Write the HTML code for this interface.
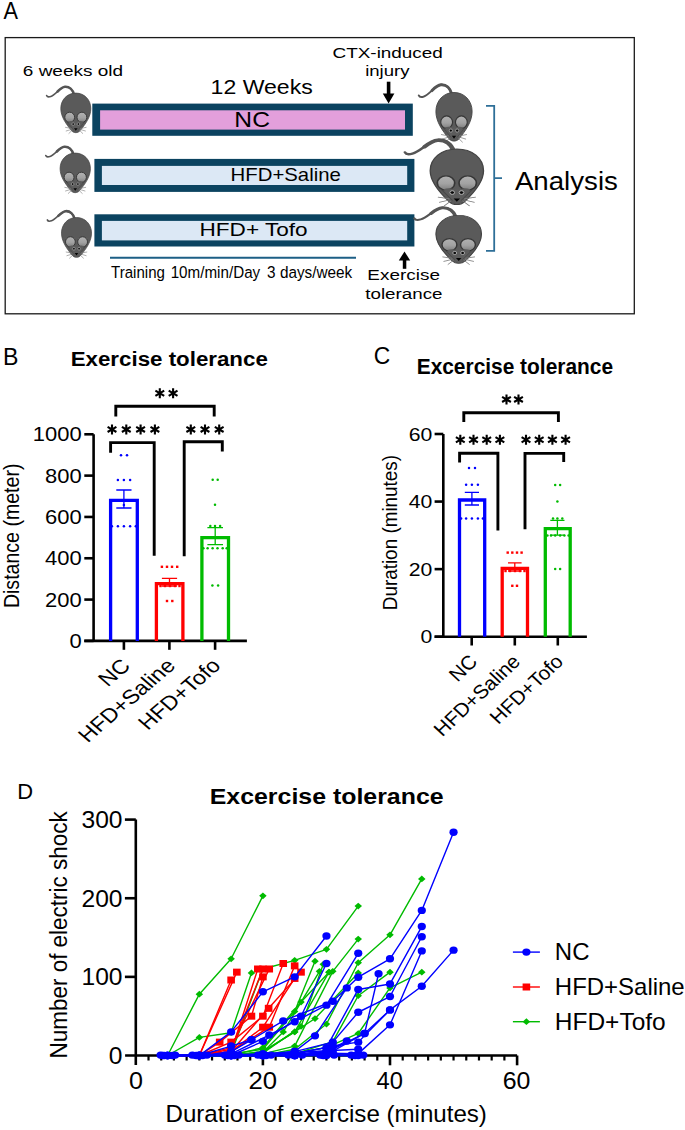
<!DOCTYPE html>
<html><head><meta charset="utf-8"><style>
html,body{margin:0;padding:0;background:#fff;}
svg{display:block;}
text{font-family:"Liberation Sans",sans-serif;}
</style></head><body>
<svg width="685" height="1130" viewBox="0 0 685 1130">
<defs><linearGradient id="earg" x1="0" y1="0" x2="0" y2="1"><stop offset="0" stop-color="#b2b2b2"/><stop offset="0.55" stop-color="#a2a2a2"/><stop offset="1" stop-color="#7e7e7e"/></linearGradient>
</defs>
<rect width="685" height="1130" fill="#fff"/>
<text transform="translate(3.45,19.3) scale(0.9450,1)" font-size="23" fill="#000">A</text>
<rect x="5.2" y="37.6" width="629.1" height="276.2" fill="none" stroke="#1a1a1a" stroke-width="1.3"/>
<text transform="translate(22.85,76.4) scale(1.2327,1)" font-size="15.4" fill="#000">6 weeks old</text>
<text transform="translate(210.57,94.3) scale(1.1782,1)" font-size="19.6" fill="#000">12 Weeks</text>
<text transform="translate(332.55,57.5) scale(1.2439,1)" font-size="15.2" fill="#000">CTX-induced</text>
<text transform="translate(365.15,76) scale(1.2222,1)" font-size="15.2" fill="#000">injury</text>
<rect x="92.3" y="103.6" width="320.5" height="32.2" fill="#0b4360"/>
<rect x="100.1" y="110.3" width="304.9" height="19.3" fill="#e39fdb"/>
<rect x="94.4" y="158.9" width="320" height="33" fill="#0b4360"/>
<rect x="101.9" y="165.9" width="305.3" height="19.1" fill="#dce8f5"/>
<rect x="94.4" y="214.3" width="320" height="32.2" fill="#0b4360"/>
<rect x="101.9" y="220.9" width="305.3" height="19.5" fill="#dce8f5"/>
<text transform="translate(234.37,127.2) scale(1.1286,1)" font-size="21.8" fill="#000">NC</text>
<text transform="translate(230.62,181.3) scale(1.1181,1)" font-size="18.2" fill="#000">HFD+Saline</text>
<text transform="translate(199.54,236.3) scale(1.2136,1)" font-size="18.6" fill="#000">HFD+ Tofo</text>
<rect x="386.8" y="81.7" width="3.6" height="13" fill="#000"/>
<path d="M382.8,93.5 L394.4,93.5 L388.6,103.5 Z" fill="#000"/>
<path d="M404.5,251.5 L410.2,260.5 L398.8,260.5 Z" fill="#000"/>
<rect x="402.8" y="259.5" width="3.5" height="9.3" fill="#000"/>
<line x1="110" y1="257.8" x2="356" y2="257.8" stroke="#1d5f86" stroke-width="2"/>
<text transform="translate(111.06,278) scale(0.9134,1)" font-size="16.5" fill="#000">Training</text>
<text transform="translate(170.66,278) scale(0.9217,1)" font-size="16.5" fill="#000">10m/min/Day</text>
<text transform="translate(267.12,278) scale(0.9295,1)" font-size="16.5" fill="#000">3 days/week</text>
<text transform="translate(367.34,280.1) scale(1.2376,1)" font-size="15.3" fill="#000">Exercise</text>
<text transform="translate(365.22,299.4) scale(1.2282,1)" font-size="15.3" fill="#000">tolerance</text>
<path d="M486,105.8 L494.2,105.8 L494.2,250.8 L486,250.8 M494.2,178.2 L502,178.2" fill="none" stroke="#2e6f98" stroke-width="1.8"/>
<text transform="translate(514.93,189.8) scale(1.0435,1)" font-size="26.5" fill="#000">Analysis</text>
<g transform="translate(60.8,93.1) scale(1,1)"><path d="M12.8,0.8 C11.5,-3.5 8.5,-6.6 4.2,-6.3 C-0.5,-6 -5.5,2 -10,3.3 C-12,4 -13.6,3.9 -14.2,2.4" fill="none" stroke="#555" stroke-width="1.6" stroke-linecap="round"/><path d="M13.2,1.5 C12,-3.5 8.5,-6.6 4.2,-6.3 C1.5,-6.1 -1,-3.8 -3.2,-1.6" fill="none" stroke="#555" stroke-width="2.5" stroke-linecap="round"/><path d="M15,0 C23.6,0 30,6.6 30,15.5 C30,23.5 24.8,31 19.2,37.6 C17,40.2 13,40.2 10.8,37.6 C5.2,31 0,23.5 0,15.5 C0,6.6 6.4,0 15,0 Z" fill="#5a5a5a" stroke="#444" stroke-width="0.75"/><ellipse cx="8.9" cy="24.2" rx="4.9" ry="5.1" fill="url(#earg)" stroke="#363636" stroke-width="0.95"/><ellipse cx="21.1" cy="24.2" rx="4.9" ry="5.1" fill="url(#earg)" stroke="#363636" stroke-width="0.95"/><path d="M7.5,28.6 Q11,27 13.2,28.8 Q15,27.6 16.8,28.8 Q19,27 22.5,28.6 L18.6,36.4 Q15,38.6 11.4,36.4 Z" fill="#5c5c5c"/><path d="M6.2,28.8 Q10,33.5 12.6,36.6 M23.8,28.8 Q20,33.5 17.4,36.6" stroke="#474747" stroke-width="0.6" fill="none"/><circle cx="12.4" cy="31.0" r="1.3" fill="#0a0a0a" stroke="#d0d0d0" stroke-width="0.5"/><circle cx="17.6" cy="31.0" r="1.3" fill="#0a0a0a" stroke="#d0d0d0" stroke-width="0.5"/><path d="M13.2,35.2 L16.8,35.2 L15,37.6 Z" fill="#050505"/><path d="M10.8,35.4 L4.3,34.2 M11,36.2 L5,38 M11.8,36.8 L7.8,40.6 M19.2,35.4 L25.7,34.2 M19,36.2 L25,38 M18.2,36.8 L22.2,40.6" stroke="#7c7c7c" stroke-width="0.6" fill="none"/></g>
<g transform="translate(60.1,153.1) scale(1.01,1)"><path d="M12.8,0.8 C11.5,-3.5 8.5,-6.6 4.2,-6.3 C-0.5,-6 -5.5,2 -10,3.3 C-12,4 -13.6,3.9 -14.2,2.4" fill="none" stroke="#555" stroke-width="1.6" stroke-linecap="round"/><path d="M13.2,1.5 C12,-3.5 8.5,-6.6 4.2,-6.3 C1.5,-6.1 -1,-3.8 -3.2,-1.6" fill="none" stroke="#555" stroke-width="2.5" stroke-linecap="round"/><path d="M15,0 C23.6,0 30,6.6 30,15.5 C30,23.5 24.8,31 19.2,37.6 C17,40.2 13,40.2 10.8,37.6 C5.2,31 0,23.5 0,15.5 C0,6.6 6.4,0 15,0 Z" fill="#5a5a5a" stroke="#444" stroke-width="0.75"/><ellipse cx="8.9" cy="24.2" rx="4.9" ry="5.1" fill="url(#earg)" stroke="#363636" stroke-width="0.95"/><ellipse cx="21.1" cy="24.2" rx="4.9" ry="5.1" fill="url(#earg)" stroke="#363636" stroke-width="0.95"/><path d="M7.5,28.6 Q11,27 13.2,28.8 Q15,27.6 16.8,28.8 Q19,27 22.5,28.6 L18.6,36.4 Q15,38.6 11.4,36.4 Z" fill="#5c5c5c"/><path d="M6.2,28.8 Q10,33.5 12.6,36.6 M23.8,28.8 Q20,33.5 17.4,36.6" stroke="#474747" stroke-width="0.6" fill="none"/><circle cx="12.4" cy="31.0" r="1.3" fill="#0a0a0a" stroke="#d0d0d0" stroke-width="0.5"/><circle cx="17.6" cy="31.0" r="1.3" fill="#0a0a0a" stroke="#d0d0d0" stroke-width="0.5"/><path d="M13.2,35.2 L16.8,35.2 L15,37.6 Z" fill="#050505"/><path d="M10.8,35.4 L4.3,34.2 M11,36.2 L5,38 M11.8,36.8 L7.8,40.6 M19.2,35.4 L25.7,34.2 M19,36.2 L25,38 M18.2,36.8 L22.2,40.6" stroke="#7c7c7c" stroke-width="0.6" fill="none"/></g>
<g transform="translate(61.5,217.5) scale(1,1.0075)"><path d="M12.8,0.8 C11.5,-3.5 8.5,-6.6 4.2,-6.3 C-0.5,-6 -5.5,2 -10,3.3 C-12,4 -13.6,3.9 -14.2,2.4" fill="none" stroke="#555" stroke-width="1.6" stroke-linecap="round"/><path d="M13.2,1.5 C12,-3.5 8.5,-6.6 4.2,-6.3 C1.5,-6.1 -1,-3.8 -3.2,-1.6" fill="none" stroke="#555" stroke-width="2.5" stroke-linecap="round"/><path d="M15,0 C23.6,0 30,6.6 30,15.5 C30,23.5 24.8,31 19.2,37.6 C17,40.2 13,40.2 10.8,37.6 C5.2,31 0,23.5 0,15.5 C0,6.6 6.4,0 15,0 Z" fill="#5a5a5a" stroke="#444" stroke-width="0.75"/><ellipse cx="8.9" cy="24.2" rx="4.9" ry="5.1" fill="url(#earg)" stroke="#363636" stroke-width="0.95"/><ellipse cx="21.1" cy="24.2" rx="4.9" ry="5.1" fill="url(#earg)" stroke="#363636" stroke-width="0.95"/><path d="M7.5,28.6 Q11,27 13.2,28.8 Q15,27.6 16.8,28.8 Q19,27 22.5,28.6 L18.6,36.4 Q15,38.6 11.4,36.4 Z" fill="#5c5c5c"/><path d="M6.2,28.8 Q10,33.5 12.6,36.6 M23.8,28.8 Q20,33.5 17.4,36.6" stroke="#474747" stroke-width="0.6" fill="none"/><circle cx="12.4" cy="31.0" r="1.3" fill="#0a0a0a" stroke="#d0d0d0" stroke-width="0.5"/><circle cx="17.6" cy="31.0" r="1.3" fill="#0a0a0a" stroke="#d0d0d0" stroke-width="0.5"/><path d="M13.2,35.2 L16.8,35.2 L15,37.6 Z" fill="#050505"/><path d="M10.8,35.4 L4.3,34.2 M11,36.2 L5,38 M11.8,36.8 L7.8,40.6 M19.2,35.4 L25.7,34.2 M19,36.2 L25,38 M18.2,36.8 L22.2,40.6" stroke="#7c7c7c" stroke-width="0.6" fill="none"/></g>
<g transform="translate(435.9,92.5) scale(1.207,1.228)"><path d="M12.8,0.8 C11.5,-3.5 8.5,-6.6 4.2,-6.3 C-0.5,-6 -5.5,2 -10,3.3 C-12,4 -13.6,3.9 -14.2,2.4" fill="none" stroke="#555" stroke-width="1.6" stroke-linecap="round"/><path d="M13.2,1.5 C12,-3.5 8.5,-6.6 4.2,-6.3 C1.5,-6.1 -1,-3.8 -3.2,-1.6" fill="none" stroke="#555" stroke-width="2.5" stroke-linecap="round"/><path d="M15,0 C23.6,0 30,6.6 30,15.5 C30,23.5 24.8,31 19.2,37.6 C17,40.2 13,40.2 10.8,37.6 C5.2,31 0,23.5 0,15.5 C0,6.6 6.4,0 15,0 Z" fill="#5a5a5a" stroke="#444" stroke-width="0.75"/><ellipse cx="8.9" cy="24.2" rx="4.9" ry="5.1" fill="url(#earg)" stroke="#363636" stroke-width="0.95"/><ellipse cx="21.1" cy="24.2" rx="4.9" ry="5.1" fill="url(#earg)" stroke="#363636" stroke-width="0.95"/><path d="M7.5,28.6 Q11,27 13.2,28.8 Q15,27.6 16.8,28.8 Q19,27 22.5,28.6 L18.6,36.4 Q15,38.6 11.4,36.4 Z" fill="#5c5c5c"/><path d="M6.2,28.8 Q10,33.5 12.6,36.6 M23.8,28.8 Q20,33.5 17.4,36.6" stroke="#474747" stroke-width="0.6" fill="none"/><circle cx="12.4" cy="31.0" r="1.3" fill="#0a0a0a" stroke="#d0d0d0" stroke-width="0.5"/><circle cx="17.6" cy="31.0" r="1.3" fill="#0a0a0a" stroke="#d0d0d0" stroke-width="0.5"/><path d="M13.2,35.2 L16.8,35.2 L15,37.6 Z" fill="#050505"/><path d="M10.8,35.4 L4.3,34.2 M11,36.2 L5,38 M11.8,36.8 L7.8,40.6 M19.2,35.4 L25.7,34.2 M19,36.2 L25,38 M18.2,36.8 L22.2,40.6" stroke="#7c7c7c" stroke-width="0.6" fill="none"/></g>
<g transform="translate(430.2,149) scale(1.777,1.405)"><path d="M12.8,0.8 C11.5,-3.5 8.5,-6.6 4.2,-6.3 C-0.5,-6 -5.5,2 -10,3.3 C-12,4 -13.6,3.9 -14.2,2.4" fill="none" stroke="#555" stroke-width="1.6" stroke-linecap="round"/><path d="M13.2,1.5 C12,-3.5 8.5,-6.6 4.2,-6.3 C1.5,-6.1 -1,-3.8 -3.2,-1.6" fill="none" stroke="#555" stroke-width="2.5" stroke-linecap="round"/><path d="M15,0 C23.6,0 30,6.6 30,15.5 C30,23.5 24.8,31 19.2,37.6 C17,40.2 13,40.2 10.8,37.6 C5.2,31 0,23.5 0,15.5 C0,6.6 6.4,0 15,0 Z" fill="#5a5a5a" stroke="#444" stroke-width="0.75"/><ellipse cx="8.9" cy="24.2" rx="4.9" ry="5.1" fill="url(#earg)" stroke="#363636" stroke-width="0.95"/><ellipse cx="21.1" cy="24.2" rx="4.9" ry="5.1" fill="url(#earg)" stroke="#363636" stroke-width="0.95"/><path d="M7.5,28.6 Q11,27 13.2,28.8 Q15,27.6 16.8,28.8 Q19,27 22.5,28.6 L18.6,36.4 Q15,38.6 11.4,36.4 Z" fill="#5c5c5c"/><path d="M6.2,28.8 Q10,33.5 12.6,36.6 M23.8,28.8 Q20,33.5 17.4,36.6" stroke="#474747" stroke-width="0.6" fill="none"/><circle cx="12.4" cy="31.0" r="1.3" fill="#0a0a0a" stroke="#d0d0d0" stroke-width="0.5"/><circle cx="17.6" cy="31.0" r="1.3" fill="#0a0a0a" stroke="#d0d0d0" stroke-width="0.5"/><path d="M13.2,35.2 L16.8,35.2 L15,37.6 Z" fill="#050505"/><path d="M10.8,35.4 L4.3,34.2 M11,36.2 L5,38 M11.8,36.8 L7.8,40.6 M19.2,35.4 L25.7,34.2 M19,36.2 L25,38 M18.2,36.8 L22.2,40.6" stroke="#7c7c7c" stroke-width="0.6" fill="none"/></g>
<g transform="translate(435.9,215.4) scale(1.52,1.2125)"><path d="M12.8,0.8 C11.5,-3.5 8.5,-6.6 4.2,-6.3 C-0.5,-6 -5.5,2 -10,3.3 C-12,4 -13.6,3.9 -14.2,2.4" fill="none" stroke="#555" stroke-width="1.6" stroke-linecap="round"/><path d="M13.2,1.5 C12,-3.5 8.5,-6.6 4.2,-6.3 C1.5,-6.1 -1,-3.8 -3.2,-1.6" fill="none" stroke="#555" stroke-width="2.5" stroke-linecap="round"/><path d="M15,0 C23.6,0 30,6.6 30,15.5 C30,23.5 24.8,31 19.2,37.6 C17,40.2 13,40.2 10.8,37.6 C5.2,31 0,23.5 0,15.5 C0,6.6 6.4,0 15,0 Z" fill="#5a5a5a" stroke="#444" stroke-width="0.75"/><ellipse cx="8.9" cy="24.2" rx="4.9" ry="5.1" fill="url(#earg)" stroke="#363636" stroke-width="0.95"/><ellipse cx="21.1" cy="24.2" rx="4.9" ry="5.1" fill="url(#earg)" stroke="#363636" stroke-width="0.95"/><path d="M7.5,28.6 Q11,27 13.2,28.8 Q15,27.6 16.8,28.8 Q19,27 22.5,28.6 L18.6,36.4 Q15,38.6 11.4,36.4 Z" fill="#5c5c5c"/><path d="M6.2,28.8 Q10,33.5 12.6,36.6 M23.8,28.8 Q20,33.5 17.4,36.6" stroke="#474747" stroke-width="0.6" fill="none"/><circle cx="12.4" cy="31.0" r="1.3" fill="#0a0a0a" stroke="#d0d0d0" stroke-width="0.5"/><circle cx="17.6" cy="31.0" r="1.3" fill="#0a0a0a" stroke="#d0d0d0" stroke-width="0.5"/><path d="M13.2,35.2 L16.8,35.2 L15,37.6 Z" fill="#050505"/><path d="M10.8,35.4 L4.3,34.2 M11,36.2 L5,38 M11.8,36.8 L7.8,40.6 M19.2,35.4 L25.7,34.2 M19,36.2 L25,38 M18.2,36.8 L22.2,40.6" stroke="#7c7c7c" stroke-width="0.6" fill="none"/></g>
<text transform="translate(2.89,364.5) scale(0.9788,1)" font-size="23.6" fill="#000">B</text>
<text transform="translate(70.69,365.7) scale(1.0572,1)" font-size="21.1" font-weight="bold" fill="#000">Exercise tolerance</text>
<path d="M93.6,434.3 V640.9 M84.3,640.9 H246.9" stroke="#000" stroke-width="2.6" fill="none"/>
<line x1="84.3" y1="434.3" x2="93.6" y2="434.3" stroke="#000" stroke-width="2.6"/>
<line x1="84.3" y1="475.62" x2="93.6" y2="475.62" stroke="#000" stroke-width="2.6"/>
<line x1="84.3" y1="516.94" x2="93.6" y2="516.94" stroke="#000" stroke-width="2.6"/>
<line x1="84.3" y1="558.26" x2="93.6" y2="558.26" stroke="#000" stroke-width="2.6"/>
<line x1="84.3" y1="599.58" x2="93.6" y2="599.58" stroke="#000" stroke-width="2.6"/>
<line x1="84.3" y1="640.9" x2="93.6" y2="640.9" stroke="#000" stroke-width="2.6"/>
<line x1="123.9" y1="640.9" x2="123.9" y2="649.8" stroke="#000" stroke-width="2.6"/>
<line x1="169.4" y1="640.9" x2="169.4" y2="649.8" stroke="#000" stroke-width="2.6"/>
<line x1="215.1" y1="640.9" x2="215.1" y2="649.8" stroke="#000" stroke-width="2.6"/>
<text transform="translate(32.85,441.4) scale(1.0886,1)" font-size="20.2" fill="#000">1000</text>
<text transform="translate(45.06,482.72) scale(1.0886,1)" font-size="20.2" fill="#000">800</text>
<text transform="translate(45.06,524.04) scale(1.0886,1)" font-size="20.2" fill="#000">600</text>
<text transform="translate(45.06,565.36) scale(1.0886,1)" font-size="20.2" fill="#000">400</text>
<text transform="translate(45.06,606.68) scale(1.0886,1)" font-size="20.2" fill="#000">200</text>
<text transform="translate(69.52,648) scale(1.0886,1)" font-size="20.2" fill="#000">0</text>
<text transform="translate(19.1,608.11) rotate(-90) scale(0.8619,1)" font-size="22.7" fill="#000">Distance (meter)</text>
<path d="M110.6,640.9 V500.4 H137.3 V640.9" fill="none" stroke="#0000ff" stroke-width="3.3"/>
<path d="M156.4,640.9 V583.6 H182.9 V640.9" fill="none" stroke="#ff0000" stroke-width="3.3"/>
<path d="M201.9,640.9 V537.7 H228.5 V640.9" fill="none" stroke="#00bb00" stroke-width="3.3"/>
<path d="M123.9,490 V508 M116.3,490 H131.5 M116.3,508 H131.5" stroke="#0000ff" stroke-width="1.3" fill="none"/>
<path d="M169.5,578.3 V586 M161.9,578.3 H177.1 M161.9,586 H177.1" stroke="#ff0000" stroke-width="1.3" fill="none"/>
<path d="M215.2,527.6 V544.6 M207.4,527.6 H223 M207.4,544.6 H223" stroke="#00bb00" stroke-width="1.3" fill="none"/>
<circle cx="121" cy="455.2" r="1.25" fill="#0000ff"/>
<circle cx="127" cy="455.2" r="1.25" fill="#0000ff"/>
<circle cx="117.9" cy="480" r="1.25" fill="#0000ff"/>
<circle cx="123.9" cy="480" r="1.25" fill="#0000ff"/>
<circle cx="130.1" cy="480" r="1.25" fill="#0000ff"/>
<circle cx="123.9" cy="504.9" r="1.25" fill="#0000ff"/>
<circle cx="111.9" cy="526.3" r="1.25" fill="#0000ff"/>
<circle cx="117.9" cy="526.3" r="1.25" fill="#0000ff"/>
<circle cx="123.9" cy="526.3" r="1.25" fill="#0000ff"/>
<circle cx="130.1" cy="526.3" r="1.25" fill="#0000ff"/>
<circle cx="135.8" cy="526.3" r="1.25" fill="#0000ff"/>
<rect x="160.7" y="565.6" width="2.4" height="2.4" fill="#ff0000"/>
<rect x="165.8" y="565.6" width="2.4" height="2.4" fill="#ff0000"/>
<rect x="170.8" y="565.6" width="2.4" height="2.4" fill="#ff0000"/>
<rect x="176" y="565.6" width="2.4" height="2.4" fill="#ff0000"/>
<rect x="159.3" y="584.8" width="2.4" height="2.4" fill="#ff0000"/>
<rect x="163.8" y="584.8" width="2.4" height="2.4" fill="#ff0000"/>
<rect x="168.8" y="584.8" width="2.4" height="2.4" fill="#ff0000"/>
<rect x="173.8" y="584.8" width="2.4" height="2.4" fill="#ff0000"/>
<rect x="178.3" y="584.8" width="2.4" height="2.4" fill="#ff0000"/>
<rect x="165.8" y="599.8" width="2.4" height="2.4" fill="#ff0000"/>
<rect x="171.1" y="599.8" width="2.4" height="2.4" fill="#ff0000"/>
<circle cx="212.7" cy="479.8" r="1.25" fill="#00bb00"/>
<circle cx="217.7" cy="479.8" r="1.25" fill="#00bb00"/>
<circle cx="215" cy="504.8" r="1.25" fill="#00bb00"/>
<circle cx="210.3" cy="526" r="1.25" fill="#00bb00"/>
<circle cx="215" cy="526" r="1.25" fill="#00bb00"/>
<circle cx="220.1" cy="526" r="1.25" fill="#00bb00"/>
<circle cx="203.4" cy="548.3" r="1.25" fill="#00bb00"/>
<circle cx="207.6" cy="548.3" r="1.25" fill="#00bb00"/>
<circle cx="212.6" cy="548.3" r="1.25" fill="#00bb00"/>
<circle cx="217.5" cy="548.3" r="1.25" fill="#00bb00"/>
<circle cx="222.7" cy="548.3" r="1.25" fill="#00bb00"/>
<circle cx="226.7" cy="548.3" r="1.25" fill="#00bb00"/>
<circle cx="212.4" cy="585.4" r="1.25" fill="#00bb00"/>
<circle cx="218.1" cy="585.4" r="1.25" fill="#00bb00"/>
<path d="M115.8,416.6 V406.3 H214.2 V416.6" fill="none" stroke="#000" stroke-width="2.9"/>
<path transform="translate(159.8,393.3)" d="M0,-5 V5 M-4.4,-2.6 L4.4,2.6 M-4.4,2.6 L4.4,-2.6" stroke="#000" stroke-width="2.1" fill="none"/>
<path transform="translate(173.1,393.3)" d="M0,-5 V5 M-4.4,-2.6 L4.4,2.6 M-4.4,2.6 L4.4,-2.6" stroke="#000" stroke-width="2.1" fill="none"/>
<path d="M110.6,452.8 V442.6 H154.2 V555.8" fill="none" stroke="#000" stroke-width="2.9"/>
<path transform="translate(112,429.4)" d="M0,-5 V5 M-4.4,-2.6 L4.4,2.6 M-4.4,2.6 L4.4,-2.6" stroke="#000" stroke-width="2.1" fill="none"/>
<path transform="translate(126.3,429.4)" d="M0,-5 V5 M-4.4,-2.6 L4.4,2.6 M-4.4,2.6 L4.4,-2.6" stroke="#000" stroke-width="2.1" fill="none"/>
<path transform="translate(140.6,429.4)" d="M0,-5 V5 M-4.4,-2.6 L4.4,2.6 M-4.4,2.6 L4.4,-2.6" stroke="#000" stroke-width="2.1" fill="none"/>
<path transform="translate(154.9,429.4)" d="M0,-5 V5 M-4.4,-2.6 L4.4,2.6 M-4.4,2.6 L4.4,-2.6" stroke="#000" stroke-width="2.1" fill="none"/>
<path d="M184.2,556.3 V441.8 H222.3 V451.5" fill="none" stroke="#000" stroke-width="2.9"/>
<path transform="translate(190.8,429.4)" d="M0,-5 V5 M-4.4,-2.6 L4.4,2.6 M-4.4,2.6 L4.4,-2.6" stroke="#000" stroke-width="2.1" fill="none"/>
<path transform="translate(205,429.4)" d="M0,-5 V5 M-4.4,-2.6 L4.4,2.6 M-4.4,2.6 L4.4,-2.6" stroke="#000" stroke-width="2.1" fill="none"/>
<path transform="translate(219.2,429.4)" d="M0,-5 V5 M-4.4,-2.6 L4.4,2.6 M-4.4,2.6 L4.4,-2.6" stroke="#000" stroke-width="2.1" fill="none"/>
<text transform="translate(131.5,667) scale(1.16,1) rotate(-45)" font-size="20" text-anchor="end">NC</text>
<text transform="translate(176.5,667) scale(1.16,1) rotate(-45)" font-size="20" text-anchor="end">HFD+Saline</text>
<text transform="translate(222,667) scale(1.16,1) rotate(-45)" font-size="20" text-anchor="end">HFD+Tofo</text>
<text transform="translate(373.66,364.4) scale(0.9800,1)" font-size="23.3" fill="#000">C</text>
<text transform="translate(416.69,373.5) scale(0.9860,1)" font-size="21.2" font-weight="bold" fill="#000">Excercise tolerance</text>
<path d="M443.3,434.0 V636.7 M434.6,636.7 H586.9" stroke="#000" stroke-width="2.6" fill="none"/>
<line x1="434.6" y1="434" x2="443.3" y2="434" stroke="#000" stroke-width="2.6"/>
<line x1="434.6" y1="501.57" x2="443.3" y2="501.57" stroke="#000" stroke-width="2.6"/>
<line x1="434.6" y1="569.13" x2="443.3" y2="569.13" stroke="#000" stroke-width="2.6"/>
<line x1="434.6" y1="636.7" x2="443.3" y2="636.7" stroke="#000" stroke-width="2.6"/>
<line x1="471.7" y1="636.7" x2="471.7" y2="645.5" stroke="#000" stroke-width="2.6"/>
<line x1="514.8" y1="636.7" x2="514.8" y2="645.5" stroke="#000" stroke-width="2.6"/>
<line x1="557.8" y1="636.7" x2="557.8" y2="645.5" stroke="#000" stroke-width="2.6"/>
<text transform="translate(408.74,440.7) scale(1.1534,1)" font-size="18.4" fill="#000">60</text>
<text transform="translate(408.74,508.27) scale(1.1534,1)" font-size="18.4" fill="#000">40</text>
<text transform="translate(408.74,575.83) scale(1.1534,1)" font-size="18.4" fill="#000">20</text>
<text transform="translate(420.52,643.4) scale(1.1534,1)" font-size="18.4" fill="#000">0</text>
<text transform="translate(397.2,610.26) rotate(-90) scale(0.9261,1)" font-size="20.4" fill="#000">Duration (minutes)</text>
<path d="M459.5,636.7 V500 H484.7 V636.7" fill="none" stroke="#0000ff" stroke-width="3.3"/>
<path d="M502.2,636.7 V568.4 H527.5 V636.7" fill="none" stroke="#ff0000" stroke-width="3.3"/>
<path d="M545.3,636.7 V528.7 H570.2 V636.7" fill="none" stroke="#00bb00" stroke-width="3.3"/>
<path d="M471.9,492.4 V505 M464.8,492.4 H479 M464.8,505 H479" stroke="#0000ff" stroke-width="1.3" fill="none"/>
<path d="M514.8,562.9 V571 M508,562.9 H521.6 M508,571 H521.6" stroke="#ff0000" stroke-width="1.3" fill="none"/>
<path d="M557.4,520.4 V535.2 M550.3,520.4 H564.5 M550.3,535.2 H564.5" stroke="#00bb00" stroke-width="1.3" fill="none"/>
<circle cx="469" cy="467.9" r="1.25" fill="#0000ff"/>
<circle cx="475" cy="467.9" r="1.25" fill="#0000ff"/>
<circle cx="466.1" cy="484.7" r="1.25" fill="#0000ff"/>
<circle cx="471.9" cy="484.7" r="1.25" fill="#0000ff"/>
<circle cx="477.9" cy="484.7" r="1.25" fill="#0000ff"/>
<circle cx="461.1" cy="518.6" r="1.25" fill="#0000ff"/>
<circle cx="466.1" cy="518.6" r="1.25" fill="#0000ff"/>
<circle cx="471.9" cy="518.6" r="1.25" fill="#0000ff"/>
<circle cx="477.9" cy="518.6" r="1.25" fill="#0000ff"/>
<circle cx="482.9" cy="518.6" r="1.25" fill="#0000ff"/>
<rect x="506.5" y="551.4" width="2.4" height="2.4" fill="#ff0000"/>
<rect x="511.1" y="551.4" width="2.4" height="2.4" fill="#ff0000"/>
<rect x="515.8" y="551.4" width="2.4" height="2.4" fill="#ff0000"/>
<rect x="520.4" y="551.4" width="2.4" height="2.4" fill="#ff0000"/>
<rect x="504.3" y="569.8" width="2.4" height="2.4" fill="#ff0000"/>
<rect x="508.8" y="569.8" width="2.4" height="2.4" fill="#ff0000"/>
<rect x="513.8" y="569.8" width="2.4" height="2.4" fill="#ff0000"/>
<rect x="518.8" y="569.8" width="2.4" height="2.4" fill="#ff0000"/>
<rect x="523.3" y="569.8" width="2.4" height="2.4" fill="#ff0000"/>
<rect x="511.1" y="584.6" width="2.4" height="2.4" fill="#ff0000"/>
<rect x="515.8" y="584.6" width="2.4" height="2.4" fill="#ff0000"/>
<circle cx="555.2" cy="485" r="1.25" fill="#00bb00"/>
<circle cx="560.1" cy="485" r="1.25" fill="#00bb00"/>
<circle cx="557.4" cy="501.6" r="1.25" fill="#00bb00"/>
<circle cx="553" cy="518.6" r="1.25" fill="#00bb00"/>
<circle cx="557.4" cy="518.6" r="1.25" fill="#00bb00"/>
<circle cx="562.3" cy="518.6" r="1.25" fill="#00bb00"/>
<circle cx="547.4" cy="535.6" r="1.25" fill="#00bb00"/>
<circle cx="551" cy="535.6" r="1.25" fill="#00bb00"/>
<circle cx="555.2" cy="535.6" r="1.25" fill="#00bb00"/>
<circle cx="560.1" cy="535.6" r="1.25" fill="#00bb00"/>
<circle cx="564.4" cy="535.6" r="1.25" fill="#00bb00"/>
<circle cx="568.6" cy="535.6" r="1.25" fill="#00bb00"/>
<circle cx="555.2" cy="569.1" r="1.25" fill="#00bb00"/>
<circle cx="560.1" cy="569.1" r="1.25" fill="#00bb00"/>
<path d="M463.8,422 V412.8 H558.4 V422" fill="none" stroke="#000" stroke-width="2.9"/>
<path transform="translate(506.5,399.4)" d="M0,-5 V5 M-4.4,-2.6 L4.4,2.6 M-4.4,2.6 L4.4,-2.6" stroke="#000" stroke-width="2.1" fill="none"/>
<path transform="translate(518.5,399.4)" d="M0,-5 V5 M-4.4,-2.6 L4.4,2.6 M-4.4,2.6 L4.4,-2.6" stroke="#000" stroke-width="2.1" fill="none"/>
<path d="M459.6,462.6 V453.2 H497.9 V530.6" fill="none" stroke="#000" stroke-width="2.9"/>
<path transform="translate(460.3,439.8)" d="M0,-5 V5 M-4.4,-2.6 L4.4,2.6 M-4.4,2.6 L4.4,-2.6" stroke="#000" stroke-width="2.1" fill="none"/>
<path transform="translate(473.5,439.8)" d="M0,-5 V5 M-4.4,-2.6 L4.4,2.6 M-4.4,2.6 L4.4,-2.6" stroke="#000" stroke-width="2.1" fill="none"/>
<path transform="translate(486.7,439.8)" d="M0,-5 V5 M-4.4,-2.6 L4.4,2.6 M-4.4,2.6 L4.4,-2.6" stroke="#000" stroke-width="2.1" fill="none"/>
<path transform="translate(499.9,439.8)" d="M0,-5 V5 M-4.4,-2.6 L4.4,2.6 M-4.4,2.6 L4.4,-2.6" stroke="#000" stroke-width="2.1" fill="none"/>
<path d="M525,529.2 V453.4 H563.7 V462" fill="none" stroke="#000" stroke-width="2.9"/>
<path transform="translate(526,439.8)" d="M0,-5 V5 M-4.4,-2.6 L4.4,2.6 M-4.4,2.6 L4.4,-2.6" stroke="#000" stroke-width="2.1" fill="none"/>
<path transform="translate(539.2,439.8)" d="M0,-5 V5 M-4.4,-2.6 L4.4,2.6 M-4.4,2.6 L4.4,-2.6" stroke="#000" stroke-width="2.1" fill="none"/>
<path transform="translate(552.4,439.8)" d="M0,-5 V5 M-4.4,-2.6 L4.4,2.6 M-4.4,2.6 L4.4,-2.6" stroke="#000" stroke-width="2.1" fill="none"/>
<path transform="translate(565.6,439.8)" d="M0,-5 V5 M-4.4,-2.6 L4.4,2.6 M-4.4,2.6 L4.4,-2.6" stroke="#000" stroke-width="2.1" fill="none"/>
<text transform="translate(478.5,662.8) scale(1.06,1) rotate(-45)" font-size="19.5" text-anchor="end">NC</text>
<text transform="translate(521.5,662.8) scale(1.06,1) rotate(-45)" font-size="19.5" text-anchor="end">HFD+Saline</text>
<text transform="translate(564.5,662.8) scale(1.06,1) rotate(-45)" font-size="19.5" text-anchor="end">HFD+Tofo</text>
<text transform="translate(17.29,798.6) scale(0.9623,1)" font-size="22.8" fill="#000">D</text>
<text transform="translate(209.72,803.5) scale(1.1270,1)" font-size="22.1" font-weight="bold" fill="#000">Excercise tolerance</text>
<path d="M135.8,819.6 V1065 M125.1,1055.5 H517.1" stroke="#000" stroke-width="2.6" fill="none"/>
<line x1="124.9" y1="976.87" x2="135.8" y2="976.87" stroke="#000" stroke-width="2.6"/>
<line x1="124.9" y1="898.23" x2="135.8" y2="898.23" stroke="#000" stroke-width="2.6"/>
<line x1="124.9" y1="819.6" x2="135.8" y2="819.6" stroke="#000" stroke-width="2.6"/>
<line x1="148.51" y1="1055.5" x2="148.51" y2="1060.5" stroke="#000" stroke-width="2.2"/>
<line x1="161.22" y1="1055.5" x2="161.22" y2="1060.5" stroke="#000" stroke-width="2.2"/>
<line x1="173.93" y1="1055.5" x2="173.93" y2="1060.5" stroke="#000" stroke-width="2.2"/>
<line x1="186.64" y1="1055.5" x2="186.64" y2="1060.5" stroke="#000" stroke-width="2.2"/>
<line x1="199.35" y1="1055.5" x2="199.35" y2="1060.5" stroke="#000" stroke-width="2.2"/>
<line x1="212.06" y1="1055.5" x2="212.06" y2="1060.5" stroke="#000" stroke-width="2.2"/>
<line x1="224.77" y1="1055.5" x2="224.77" y2="1060.5" stroke="#000" stroke-width="2.2"/>
<line x1="237.48" y1="1055.5" x2="237.48" y2="1060.5" stroke="#000" stroke-width="2.2"/>
<line x1="250.19" y1="1055.5" x2="250.19" y2="1060.5" stroke="#000" stroke-width="2.2"/>
<line x1="275.61" y1="1055.5" x2="275.61" y2="1060.5" stroke="#000" stroke-width="2.2"/>
<line x1="288.32" y1="1055.5" x2="288.32" y2="1060.5" stroke="#000" stroke-width="2.2"/>
<line x1="301.03" y1="1055.5" x2="301.03" y2="1060.5" stroke="#000" stroke-width="2.2"/>
<line x1="313.74" y1="1055.5" x2="313.74" y2="1060.5" stroke="#000" stroke-width="2.2"/>
<line x1="326.45" y1="1055.5" x2="326.45" y2="1060.5" stroke="#000" stroke-width="2.2"/>
<line x1="339.16" y1="1055.5" x2="339.16" y2="1060.5" stroke="#000" stroke-width="2.2"/>
<line x1="351.87" y1="1055.5" x2="351.87" y2="1060.5" stroke="#000" stroke-width="2.2"/>
<line x1="364.58" y1="1055.5" x2="364.58" y2="1060.5" stroke="#000" stroke-width="2.2"/>
<line x1="377.29" y1="1055.5" x2="377.29" y2="1060.5" stroke="#000" stroke-width="2.2"/>
<line x1="402.71" y1="1055.5" x2="402.71" y2="1060.5" stroke="#000" stroke-width="2.2"/>
<line x1="415.42" y1="1055.5" x2="415.42" y2="1060.5" stroke="#000" stroke-width="2.2"/>
<line x1="428.13" y1="1055.5" x2="428.13" y2="1060.5" stroke="#000" stroke-width="2.2"/>
<line x1="440.84" y1="1055.5" x2="440.84" y2="1060.5" stroke="#000" stroke-width="2.2"/>
<line x1="453.55" y1="1055.5" x2="453.55" y2="1060.5" stroke="#000" stroke-width="2.2"/>
<line x1="466.26" y1="1055.5" x2="466.26" y2="1060.5" stroke="#000" stroke-width="2.2"/>
<line x1="478.97" y1="1055.5" x2="478.97" y2="1060.5" stroke="#000" stroke-width="2.2"/>
<line x1="491.68" y1="1055.5" x2="491.68" y2="1060.5" stroke="#000" stroke-width="2.2"/>
<line x1="504.39" y1="1055.5" x2="504.39" y2="1060.5" stroke="#000" stroke-width="2.2"/>
<line x1="262.9" y1="1055.5" x2="262.9" y2="1065.3" stroke="#000" stroke-width="2.6"/>
<line x1="390" y1="1055.5" x2="390" y2="1065.3" stroke="#000" stroke-width="2.6"/>
<line x1="517.1" y1="1055.5" x2="517.1" y2="1065.3" stroke="#000" stroke-width="2.6"/>
<polyline points="167.58,1055.5 199.35,994.17 231.12,958.78 262.9,895.87" fill="none" stroke="#00bb00" stroke-width="1.4" stroke-linejoin="round"/>
<path d="M167.58,1052.15 L171.33,1055.5 L167.58,1058.85 L163.83,1055.5 Z" fill="#00bb00"/>
<path d="M199.35,990.82 L203.1,994.17 L199.35,997.52 L195.6,994.17 Z" fill="#00bb00"/>
<path d="M231.12,955.43 L234.88,958.78 L231.12,962.13 L227.38,958.78 Z" fill="#00bb00"/>
<path d="M262.9,892.52 L266.65,895.87 L262.9,899.22 L259.15,895.87 Z" fill="#00bb00"/>
<polyline points="167.58,1055.5 199.35,1037.41 231.12,1032.7 251.46,972.94" fill="none" stroke="#00bb00" stroke-width="1.4" stroke-linejoin="round"/>
<path d="M167.58,1052.15 L171.33,1055.5 L167.58,1058.85 L163.83,1055.5 Z" fill="#00bb00"/>
<path d="M199.35,1034.06 L203.1,1037.41 L199.35,1040.76 L195.6,1037.41 Z" fill="#00bb00"/>
<path d="M231.12,1029.35 L234.88,1032.7 L231.12,1036.05 L227.38,1032.7 Z" fill="#00bb00"/>
<path d="M251.46,969.59 L255.21,972.94 L251.46,976.29 L247.71,972.94 Z" fill="#00bb00"/>
<polyline points="167.58,1055.5 199.35,1055.5 231.12,1053.14 262.9,969 294.68,960.35 326.45,949.35 358.23,906.1" fill="none" stroke="#00bb00" stroke-width="1.4" stroke-linejoin="round"/>
<path d="M167.58,1052.15 L171.33,1055.5 L167.58,1058.85 L163.83,1055.5 Z" fill="#00bb00"/>
<path d="M199.35,1052.15 L203.1,1055.5 L199.35,1058.85 L195.6,1055.5 Z" fill="#00bb00"/>
<path d="M231.12,1049.79 L234.88,1053.14 L231.12,1056.49 L227.38,1053.14 Z" fill="#00bb00"/>
<path d="M262.9,965.65 L266.65,969 L262.9,972.35 L259.15,969 Z" fill="#00bb00"/>
<path d="M294.68,957 L298.43,960.35 L294.68,963.7 L290.93,960.35 Z" fill="#00bb00"/>
<path d="M326.45,946 L330.2,949.35 L326.45,952.7 L322.7,949.35 Z" fill="#00bb00"/>
<path d="M358.23,902.75 L361.98,906.1 L358.23,909.45 L354.48,906.1 Z" fill="#00bb00"/>
<polyline points="199.35,1055.5 231.12,1053.93 262.9,1049.21 294.68,1011.47 315.01,961.14" fill="none" stroke="#00bb00" stroke-width="1.4" stroke-linejoin="round"/>
<path d="M199.35,1052.15 L203.1,1055.5 L199.35,1058.85 L195.6,1055.5 Z" fill="#00bb00"/>
<path d="M231.12,1050.58 L234.88,1053.93 L231.12,1057.28 L227.38,1053.93 Z" fill="#00bb00"/>
<path d="M262.9,1045.86 L266.65,1049.21 L262.9,1052.56 L259.15,1049.21 Z" fill="#00bb00"/>
<path d="M294.68,1008.12 L298.43,1011.47 L294.68,1014.82 L290.93,1011.47 Z" fill="#00bb00"/>
<path d="M315.01,957.79 L318.76,961.14 L315.01,964.49 L311.26,961.14 Z" fill="#00bb00"/>
<polyline points="199.35,1055.5 231.12,1055.5 262.9,1051.57 294.68,1031.91 328.99,972.15" fill="none" stroke="#00bb00" stroke-width="1.4" stroke-linejoin="round"/>
<path d="M199.35,1052.15 L203.1,1055.5 L199.35,1058.85 L195.6,1055.5 Z" fill="#00bb00"/>
<path d="M231.12,1052.15 L234.88,1055.5 L231.12,1058.85 L227.38,1055.5 Z" fill="#00bb00"/>
<path d="M262.9,1048.22 L266.65,1051.57 L262.9,1054.92 L259.15,1051.57 Z" fill="#00bb00"/>
<path d="M294.68,1028.56 L298.43,1031.91 L294.68,1035.26 L290.93,1031.91 Z" fill="#00bb00"/>
<path d="M328.99,968.8 L332.74,972.15 L328.99,975.5 L325.24,972.15 Z" fill="#00bb00"/>
<polyline points="199.35,1055.5 231.12,1055.5 262.9,1052.35 283.24,1031.91 319.46,971.36" fill="none" stroke="#00bb00" stroke-width="1.4" stroke-linejoin="round"/>
<path d="M199.35,1052.15 L203.1,1055.5 L199.35,1058.85 L195.6,1055.5 Z" fill="#00bb00"/>
<path d="M231.12,1052.15 L234.88,1055.5 L231.12,1058.85 L227.38,1055.5 Z" fill="#00bb00"/>
<path d="M262.9,1049 L266.65,1052.35 L262.9,1055.7 L259.15,1052.35 Z" fill="#00bb00"/>
<path d="M283.24,1028.56 L286.99,1031.91 L283.24,1035.26 L279.49,1031.91 Z" fill="#00bb00"/>
<path d="M319.46,968.01 L323.21,971.36 L319.46,974.71 L315.71,971.36 Z" fill="#00bb00"/>
<polyline points="199.35,1055.5 231.12,1055.5 262.9,1053.14 301.03,1026.41 323.27,964.29" fill="none" stroke="#00bb00" stroke-width="1.4" stroke-linejoin="round"/>
<path d="M199.35,1052.15 L203.1,1055.5 L199.35,1058.85 L195.6,1055.5 Z" fill="#00bb00"/>
<path d="M231.12,1052.15 L234.88,1055.5 L231.12,1058.85 L227.38,1055.5 Z" fill="#00bb00"/>
<path d="M262.9,1049.79 L266.65,1053.14 L262.9,1056.49 L259.15,1053.14 Z" fill="#00bb00"/>
<path d="M301.03,1023.06 L304.78,1026.41 L301.03,1029.76 L297.28,1026.41 Z" fill="#00bb00"/>
<path d="M323.27,960.94 L327.02,964.29 L323.27,967.64 L319.52,964.29 Z" fill="#00bb00"/>
<polyline points="199.35,1055.5 231.12,1055.5 262.9,1053.93 294.68,1046.06 332.81,971.36 358.23,939.12" fill="none" stroke="#00bb00" stroke-width="1.4" stroke-linejoin="round"/>
<path d="M199.35,1052.15 L203.1,1055.5 L199.35,1058.85 L195.6,1055.5 Z" fill="#00bb00"/>
<path d="M231.12,1052.15 L234.88,1055.5 L231.12,1058.85 L227.38,1055.5 Z" fill="#00bb00"/>
<path d="M262.9,1050.58 L266.65,1053.93 L262.9,1057.28 L259.15,1053.93 Z" fill="#00bb00"/>
<path d="M294.68,1042.71 L298.43,1046.06 L294.68,1049.41 L290.93,1046.06 Z" fill="#00bb00"/>
<path d="M332.81,968.01 L336.56,971.36 L332.81,974.71 L329.06,971.36 Z" fill="#00bb00"/>
<path d="M358.23,935.77 L361.98,939.12 L358.23,942.47 L354.48,939.12 Z" fill="#00bb00"/>
<polyline points="199.35,1055.5 231.12,1055.5 262.9,1055.5 294.68,1049.21 326.45,1024.05 358.23,962.71 390,934.8 421.78,878.97" fill="none" stroke="#00bb00" stroke-width="1.4" stroke-linejoin="round"/>
<path d="M199.35,1052.15 L203.1,1055.5 L199.35,1058.85 L195.6,1055.5 Z" fill="#00bb00"/>
<path d="M231.12,1052.15 L234.88,1055.5 L231.12,1058.85 L227.38,1055.5 Z" fill="#00bb00"/>
<path d="M262.9,1052.15 L266.65,1055.5 L262.9,1058.85 L259.15,1055.5 Z" fill="#00bb00"/>
<path d="M294.68,1045.86 L298.43,1049.21 L294.68,1052.56 L290.93,1049.21 Z" fill="#00bb00"/>
<path d="M326.45,1020.7 L330.2,1024.05 L326.45,1027.4 L322.7,1024.05 Z" fill="#00bb00"/>
<path d="M358.23,959.36 L361.98,962.71 L358.23,966.06 L354.48,962.71 Z" fill="#00bb00"/>
<path d="M390,931.45 L393.75,934.8 L390,938.15 L386.25,934.8 Z" fill="#00bb00"/>
<path d="M421.78,875.62 L425.53,878.97 L421.78,882.32 L418.03,878.97 Z" fill="#00bb00"/>
<polyline points="231.12,1055.5 262.9,1055.5 294.68,1053.93 332.81,1041.58 358.23,995.74 390,972.15" fill="none" stroke="#00bb00" stroke-width="1.4" stroke-linejoin="round"/>
<path d="M231.12,1052.15 L234.88,1055.5 L231.12,1058.85 L227.38,1055.5 Z" fill="#00bb00"/>
<path d="M262.9,1052.15 L266.65,1055.5 L262.9,1058.85 L259.15,1055.5 Z" fill="#00bb00"/>
<path d="M294.68,1050.58 L298.43,1053.93 L294.68,1057.28 L290.93,1053.93 Z" fill="#00bb00"/>
<path d="M332.81,1038.23 L336.56,1041.58 L332.81,1044.93 L329.06,1041.58 Z" fill="#00bb00"/>
<path d="M358.23,992.39 L361.98,995.74 L358.23,999.09 L354.48,995.74 Z" fill="#00bb00"/>
<path d="M390,968.8 L393.75,972.15 L390,975.5 L386.25,972.15 Z" fill="#00bb00"/>
<polyline points="231.12,1055.5 262.9,1055.5 294.68,1053.14 326.45,1047.64 358.23,1033.48 390,987.88 421.78,972.15" fill="none" stroke="#00bb00" stroke-width="1.4" stroke-linejoin="round"/>
<path d="M231.12,1052.15 L234.88,1055.5 L231.12,1058.85 L227.38,1055.5 Z" fill="#00bb00"/>
<path d="M262.9,1052.15 L266.65,1055.5 L262.9,1058.85 L259.15,1055.5 Z" fill="#00bb00"/>
<path d="M294.68,1049.79 L298.43,1053.14 L294.68,1056.49 L290.93,1053.14 Z" fill="#00bb00"/>
<path d="M326.45,1044.29 L330.2,1047.64 L326.45,1050.99 L322.7,1047.64 Z" fill="#00bb00"/>
<path d="M358.23,1030.13 L361.98,1033.48 L358.23,1036.83 L354.48,1033.48 Z" fill="#00bb00"/>
<path d="M390,984.53 L393.75,987.88 L390,991.23 L386.25,987.88 Z" fill="#00bb00"/>
<path d="M421.78,968.8 L425.53,972.15 L421.78,975.5 L418.03,972.15 Z" fill="#00bb00"/>
<polyline points="199.35,1055.5 231.12,1055.5 262.9,1051.57 294.68,1031.91 315.01,1018.54 358.23,972.94" fill="none" stroke="#00bb00" stroke-width="1.4" stroke-linejoin="round"/>
<path d="M199.35,1052.15 L203.1,1055.5 L199.35,1058.85 L195.6,1055.5 Z" fill="#00bb00"/>
<path d="M231.12,1052.15 L234.88,1055.5 L231.12,1058.85 L227.38,1055.5 Z" fill="#00bb00"/>
<path d="M262.9,1048.22 L266.65,1051.57 L262.9,1054.92 L259.15,1051.57 Z" fill="#00bb00"/>
<path d="M294.68,1028.56 L298.43,1031.91 L294.68,1035.26 L290.93,1031.91 Z" fill="#00bb00"/>
<path d="M315.01,1015.19 L318.76,1018.54 L315.01,1021.89 L311.26,1018.54 Z" fill="#00bb00"/>
<path d="M358.23,969.59 L361.98,972.94 L358.23,976.29 L354.48,972.94 Z" fill="#00bb00"/>
<polyline points="199.35,1055.5 231.12,1055.5 262.9,1047.64 301.03,1002.03 328.99,972.15" fill="none" stroke="#00bb00" stroke-width="1.4" stroke-linejoin="round"/>
<path d="M199.35,1052.15 L203.1,1055.5 L199.35,1058.85 L195.6,1055.5 Z" fill="#00bb00"/>
<path d="M231.12,1052.15 L234.88,1055.5 L231.12,1058.85 L227.38,1055.5 Z" fill="#00bb00"/>
<path d="M262.9,1044.29 L266.65,1047.64 L262.9,1050.99 L259.15,1047.64 Z" fill="#00bb00"/>
<path d="M301.03,998.68 L304.78,1002.03 L301.03,1005.38 L297.28,1002.03 Z" fill="#00bb00"/>
<path d="M328.99,968.8 L332.74,972.15 L328.99,975.5 L325.24,972.15 Z" fill="#00bb00"/>
<polyline points="231.12,1055.5 262.9,1055.5 294.68,1055.5 326.45,1055.5 358.23,1055.5" fill="none" stroke="#00bb00" stroke-width="1.4" stroke-linejoin="round"/>
<path d="M231.12,1052.15 L234.88,1055.5 L231.12,1058.85 L227.38,1055.5 Z" fill="#00bb00"/>
<path d="M262.9,1052.15 L266.65,1055.5 L262.9,1058.85 L259.15,1055.5 Z" fill="#00bb00"/>
<path d="M294.68,1052.15 L298.43,1055.5 L294.68,1058.85 L290.93,1055.5 Z" fill="#00bb00"/>
<path d="M326.45,1052.15 L330.2,1055.5 L326.45,1058.85 L322.7,1055.5 Z" fill="#00bb00"/>
<path d="M358.23,1052.15 L361.98,1055.5 L358.23,1058.85 L354.48,1055.5 Z" fill="#00bb00"/>
<polyline points="167.58,1055.5 199.35,1055.5 231.12,980.01" fill="none" stroke="#ff0000" stroke-width="1.4" stroke-linejoin="round"/>
<rect x="163.78" y="1052" width="7.6" height="7.0" fill="#ff0000"/>
<rect x="195.55" y="1052" width="7.6" height="7.0" fill="#ff0000"/>
<rect x="227.32" y="976.51" width="7.6" height="7.0" fill="#ff0000"/>
<polyline points="167.58,1055.5 199.35,1055.5 236.84,972.15" fill="none" stroke="#ff0000" stroke-width="1.4" stroke-linejoin="round"/>
<rect x="163.78" y="1052" width="7.6" height="7.0" fill="#ff0000"/>
<rect x="195.55" y="1052" width="7.6" height="7.0" fill="#ff0000"/>
<rect x="233.04" y="968.65" width="7.6" height="7.0" fill="#ff0000"/>
<polyline points="167.58,1055.5 199.35,1055.5 231.12,1051.57 257.82,969" fill="none" stroke="#ff0000" stroke-width="1.4" stroke-linejoin="round"/>
<rect x="163.78" y="1052" width="7.6" height="7.0" fill="#ff0000"/>
<rect x="195.55" y="1052" width="7.6" height="7.0" fill="#ff0000"/>
<rect x="227.32" y="1048.07" width="7.6" height="7.0" fill="#ff0000"/>
<rect x="254.02" y="965.5" width="7.6" height="7.0" fill="#ff0000"/>
<polyline points="167.58,1055.5 199.35,1055.5 231.12,1049.21 262.9,969" fill="none" stroke="#ff0000" stroke-width="1.4" stroke-linejoin="round"/>
<rect x="163.78" y="1052" width="7.6" height="7.0" fill="#ff0000"/>
<rect x="195.55" y="1052" width="7.6" height="7.0" fill="#ff0000"/>
<rect x="227.32" y="1045.71" width="7.6" height="7.0" fill="#ff0000"/>
<rect x="259.1" y="965.5" width="7.6" height="7.0" fill="#ff0000"/>
<polyline points="167.58,1055.5 199.35,1055.5 231.12,1047.64 269.25,969" fill="none" stroke="#ff0000" stroke-width="1.4" stroke-linejoin="round"/>
<rect x="163.78" y="1052" width="7.6" height="7.0" fill="#ff0000"/>
<rect x="195.55" y="1052" width="7.6" height="7.0" fill="#ff0000"/>
<rect x="227.32" y="1044.14" width="7.6" height="7.0" fill="#ff0000"/>
<rect x="265.45" y="965.5" width="7.6" height="7.0" fill="#ff0000"/>
<polyline points="167.58,1055.5 199.35,1055.5 219.69,1042.13 251.46,1016.18 262.9,976.87" fill="none" stroke="#ff0000" stroke-width="1.4" stroke-linejoin="round"/>
<rect x="163.78" y="1052" width="7.6" height="7.0" fill="#ff0000"/>
<rect x="195.55" y="1052" width="7.6" height="7.0" fill="#ff0000"/>
<rect x="215.89" y="1038.63" width="7.6" height="7.0" fill="#ff0000"/>
<rect x="247.66" y="1012.68" width="7.6" height="7.0" fill="#ff0000"/>
<rect x="259.1" y="973.37" width="7.6" height="7.0" fill="#ff0000"/>
<polyline points="199.35,1055.5 231.12,1042.13 262.9,1016.18 283.24,963.5" fill="none" stroke="#ff0000" stroke-width="1.4" stroke-linejoin="round"/>
<rect x="195.55" y="1052" width="7.6" height="7.0" fill="#ff0000"/>
<rect x="227.32" y="1038.63" width="7.6" height="7.0" fill="#ff0000"/>
<rect x="259.1" y="1012.68" width="7.6" height="7.0" fill="#ff0000"/>
<rect x="279.44" y="960" width="7.6" height="7.0" fill="#ff0000"/>
<polyline points="199.35,1055.5 231.12,1051.57 262.9,1027.19 294.68,978.44" fill="none" stroke="#ff0000" stroke-width="1.4" stroke-linejoin="round"/>
<rect x="195.55" y="1052" width="7.6" height="7.0" fill="#ff0000"/>
<rect x="227.32" y="1048.07" width="7.6" height="7.0" fill="#ff0000"/>
<rect x="259.1" y="1023.69" width="7.6" height="7.0" fill="#ff0000"/>
<rect x="290.88" y="974.94" width="7.6" height="7.0" fill="#ff0000"/>
<polyline points="199.35,1055.5 231.12,1051.57 269.25,1027.19 294.68,965.86" fill="none" stroke="#ff0000" stroke-width="1.4" stroke-linejoin="round"/>
<rect x="195.55" y="1052" width="7.6" height="7.0" fill="#ff0000"/>
<rect x="227.32" y="1048.07" width="7.6" height="7.0" fill="#ff0000"/>
<rect x="265.45" y="1023.69" width="7.6" height="7.0" fill="#ff0000"/>
<rect x="290.88" y="962.36" width="7.6" height="7.0" fill="#ff0000"/>
<polyline points="199.35,1055.5 231.12,1051.57 268.62,1008.32 301.03,972.15" fill="none" stroke="#ff0000" stroke-width="1.4" stroke-linejoin="round"/>
<rect x="195.55" y="1052" width="7.6" height="7.0" fill="#ff0000"/>
<rect x="227.32" y="1048.07" width="7.6" height="7.0" fill="#ff0000"/>
<rect x="264.82" y="1004.82" width="7.6" height="7.0" fill="#ff0000"/>
<rect x="297.23" y="968.65" width="7.6" height="7.0" fill="#ff0000"/>
<polyline points="167.58,1055.5 199.35,1055.5 231.12,1031.91 262.9,991.81 294.68,976.87 326.45,935.98" fill="none" stroke="#0000ff" stroke-width="1.4" stroke-linejoin="round"/>
<ellipse cx="167.58" cy="1055.5" rx="4.1" ry="3.7" fill="#0000ff"/>
<ellipse cx="199.35" cy="1055.5" rx="4.1" ry="3.7" fill="#0000ff"/>
<ellipse cx="231.12" cy="1031.91" rx="4.1" ry="3.7" fill="#0000ff"/>
<ellipse cx="262.9" cy="991.81" rx="4.1" ry="3.7" fill="#0000ff"/>
<ellipse cx="294.68" cy="976.87" rx="4.1" ry="3.7" fill="#0000ff"/>
<ellipse cx="326.45" cy="935.98" rx="4.1" ry="3.7" fill="#0000ff"/>
<polyline points="162.49,1055.5 199.35,1055.5 231.12,1055.5 262.9,1041.35 301.03,1016.18 326.45,963.5" fill="none" stroke="#0000ff" stroke-width="1.4" stroke-linejoin="round"/>
<ellipse cx="162.49" cy="1055.5" rx="4.1" ry="3.7" fill="#0000ff"/>
<ellipse cx="199.35" cy="1055.5" rx="4.1" ry="3.7" fill="#0000ff"/>
<ellipse cx="231.12" cy="1055.5" rx="4.1" ry="3.7" fill="#0000ff"/>
<ellipse cx="262.9" cy="1041.35" rx="4.1" ry="3.7" fill="#0000ff"/>
<ellipse cx="301.03" cy="1016.18" rx="4.1" ry="3.7" fill="#0000ff"/>
<ellipse cx="326.45" cy="963.5" rx="4.1" ry="3.7" fill="#0000ff"/>
<polyline points="167.58,1055.5 196.17,1055.5 231.12,1053.93 269.25,1035.06 294.68,1021.69 326.45,1005.17 358.23,953.28" fill="none" stroke="#0000ff" stroke-width="1.4" stroke-linejoin="round"/>
<ellipse cx="167.58" cy="1055.5" rx="4.1" ry="3.7" fill="#0000ff"/>
<ellipse cx="196.17" cy="1055.5" rx="4.1" ry="3.7" fill="#0000ff"/>
<ellipse cx="231.12" cy="1053.93" rx="4.1" ry="3.7" fill="#0000ff"/>
<ellipse cx="269.25" cy="1035.06" rx="4.1" ry="3.7" fill="#0000ff"/>
<ellipse cx="294.68" cy="1021.69" rx="4.1" ry="3.7" fill="#0000ff"/>
<ellipse cx="326.45" cy="1005.17" rx="4.1" ry="3.7" fill="#0000ff"/>
<ellipse cx="358.23" cy="953.28" rx="4.1" ry="3.7" fill="#0000ff"/>
<polyline points="172.66,1055.5 202.53,1055.5 231.12,1051.57 251.46,1039.77 283.24,1020.9 332.81,1001.24 358.23,977.18 390,958.78 421.78,910.42 453.55,832.18" fill="none" stroke="#0000ff" stroke-width="1.4" stroke-linejoin="round"/>
<ellipse cx="172.66" cy="1055.5" rx="4.1" ry="3.7" fill="#0000ff"/>
<ellipse cx="202.53" cy="1055.5" rx="4.1" ry="3.7" fill="#0000ff"/>
<ellipse cx="231.12" cy="1051.57" rx="4.1" ry="3.7" fill="#0000ff"/>
<ellipse cx="251.46" cy="1039.77" rx="4.1" ry="3.7" fill="#0000ff"/>
<ellipse cx="283.24" cy="1020.9" rx="4.1" ry="3.7" fill="#0000ff"/>
<ellipse cx="332.81" cy="1001.24" rx="4.1" ry="3.7" fill="#0000ff"/>
<ellipse cx="358.23" cy="977.18" rx="4.1" ry="3.7" fill="#0000ff"/>
<ellipse cx="390" cy="958.78" rx="4.1" ry="3.7" fill="#0000ff"/>
<ellipse cx="421.78" cy="910.42" rx="4.1" ry="3.7" fill="#0000ff"/>
<ellipse cx="453.55" cy="832.18" rx="4.1" ry="3.7" fill="#0000ff"/>
<polyline points="167.58,1055.5 199.35,1055.5 231.12,1054.71 262.9,1053.93 294.68,1051.57 315.01,1035.84 346.79,987.88" fill="none" stroke="#0000ff" stroke-width="1.4" stroke-linejoin="round"/>
<ellipse cx="167.58" cy="1055.5" rx="4.1" ry="3.7" fill="#0000ff"/>
<ellipse cx="199.35" cy="1055.5" rx="4.1" ry="3.7" fill="#0000ff"/>
<ellipse cx="231.12" cy="1054.71" rx="4.1" ry="3.7" fill="#0000ff"/>
<ellipse cx="262.9" cy="1053.93" rx="4.1" ry="3.7" fill="#0000ff"/>
<ellipse cx="294.68" cy="1051.57" rx="4.1" ry="3.7" fill="#0000ff"/>
<ellipse cx="315.01" cy="1035.84" rx="4.1" ry="3.7" fill="#0000ff"/>
<ellipse cx="346.79" cy="987.88" rx="4.1" ry="3.7" fill="#0000ff"/>
<polyline points="199.35,1055.5 231.12,1055.5 262.9,1053.93 294.68,1053.14 326.45,1047.64 358.23,989.45 390,983.94 421.78,926.54" fill="none" stroke="#0000ff" stroke-width="1.4" stroke-linejoin="round"/>
<ellipse cx="199.35" cy="1055.5" rx="4.1" ry="3.7" fill="#0000ff"/>
<ellipse cx="231.12" cy="1055.5" rx="4.1" ry="3.7" fill="#0000ff"/>
<ellipse cx="262.9" cy="1053.93" rx="4.1" ry="3.7" fill="#0000ff"/>
<ellipse cx="294.68" cy="1053.14" rx="4.1" ry="3.7" fill="#0000ff"/>
<ellipse cx="326.45" cy="1047.64" rx="4.1" ry="3.7" fill="#0000ff"/>
<ellipse cx="358.23" cy="989.45" rx="4.1" ry="3.7" fill="#0000ff"/>
<ellipse cx="390" cy="983.94" rx="4.1" ry="3.7" fill="#0000ff"/>
<ellipse cx="421.78" cy="926.54" rx="4.1" ry="3.7" fill="#0000ff"/>
<polyline points="199.35,1055.5 234.3,1055.5 262.9,1055.5 294.68,1051.57 332.81,1042.13 358.23,1012.25 390,996.52 421.78,936.76" fill="none" stroke="#0000ff" stroke-width="1.4" stroke-linejoin="round"/>
<ellipse cx="199.35" cy="1055.5" rx="4.1" ry="3.7" fill="#0000ff"/>
<ellipse cx="234.3" cy="1055.5" rx="4.1" ry="3.7" fill="#0000ff"/>
<ellipse cx="262.9" cy="1055.5" rx="4.1" ry="3.7" fill="#0000ff"/>
<ellipse cx="294.68" cy="1051.57" rx="4.1" ry="3.7" fill="#0000ff"/>
<ellipse cx="332.81" cy="1042.13" rx="4.1" ry="3.7" fill="#0000ff"/>
<ellipse cx="358.23" cy="1012.25" rx="4.1" ry="3.7" fill="#0000ff"/>
<ellipse cx="390" cy="996.52" rx="4.1" ry="3.7" fill="#0000ff"/>
<ellipse cx="421.78" cy="936.76" rx="4.1" ry="3.7" fill="#0000ff"/>
<polyline points="199.35,1055.5 227.95,1055.5 262.9,1055.5 294.68,1053.93 332.81,1046.06 358.23,1042.13 390,1009.89" fill="none" stroke="#0000ff" stroke-width="1.4" stroke-linejoin="round"/>
<ellipse cx="199.35" cy="1055.5" rx="4.1" ry="3.7" fill="#0000ff"/>
<ellipse cx="227.95" cy="1055.5" rx="4.1" ry="3.7" fill="#0000ff"/>
<ellipse cx="262.9" cy="1055.5" rx="4.1" ry="3.7" fill="#0000ff"/>
<ellipse cx="294.68" cy="1053.93" rx="4.1" ry="3.7" fill="#0000ff"/>
<ellipse cx="332.81" cy="1046.06" rx="4.1" ry="3.7" fill="#0000ff"/>
<ellipse cx="358.23" cy="1042.13" rx="4.1" ry="3.7" fill="#0000ff"/>
<ellipse cx="390" cy="1009.89" rx="4.1" ry="3.7" fill="#0000ff"/>
<polyline points="262.9,1055.5 294.68,1055.5 326.45,1052.35 364.58,1033.48 378.56,973.72" fill="none" stroke="#0000ff" stroke-width="1.4" stroke-linejoin="round"/>
<ellipse cx="262.9" cy="1055.5" rx="4.1" ry="3.7" fill="#0000ff"/>
<ellipse cx="294.68" cy="1055.5" rx="4.1" ry="3.7" fill="#0000ff"/>
<ellipse cx="326.45" cy="1052.35" rx="4.1" ry="3.7" fill="#0000ff"/>
<ellipse cx="364.58" cy="1033.48" rx="4.1" ry="3.7" fill="#0000ff"/>
<ellipse cx="378.56" cy="973.72" rx="4.1" ry="3.7" fill="#0000ff"/>
<polyline points="231.12,1055.5 262.9,1055.5 294.68,1055.5 326.45,1053.14 358.23,1053.61 390,1024.83 421.78,950.92" fill="none" stroke="#0000ff" stroke-width="1.4" stroke-linejoin="round"/>
<ellipse cx="231.12" cy="1055.5" rx="4.1" ry="3.7" fill="#0000ff"/>
<ellipse cx="262.9" cy="1055.5" rx="4.1" ry="3.7" fill="#0000ff"/>
<ellipse cx="294.68" cy="1055.5" rx="4.1" ry="3.7" fill="#0000ff"/>
<ellipse cx="326.45" cy="1053.14" rx="4.1" ry="3.7" fill="#0000ff"/>
<ellipse cx="358.23" cy="1053.61" rx="4.1" ry="3.7" fill="#0000ff"/>
<ellipse cx="390" cy="1024.83" rx="4.1" ry="3.7" fill="#0000ff"/>
<ellipse cx="421.78" cy="950.92" rx="4.1" ry="3.7" fill="#0000ff"/>
<polyline points="231.12,1055.5 262.9,1055.5 294.68,1055.5 332.81,1051.1 364.58,1033.48 390,1009.89 421.78,986.3 453.55,950.13" fill="none" stroke="#0000ff" stroke-width="1.4" stroke-linejoin="round"/>
<ellipse cx="231.12" cy="1055.5" rx="4.1" ry="3.7" fill="#0000ff"/>
<ellipse cx="262.9" cy="1055.5" rx="4.1" ry="3.7" fill="#0000ff"/>
<ellipse cx="294.68" cy="1055.5" rx="4.1" ry="3.7" fill="#0000ff"/>
<ellipse cx="332.81" cy="1051.1" rx="4.1" ry="3.7" fill="#0000ff"/>
<ellipse cx="364.58" cy="1033.48" rx="4.1" ry="3.7" fill="#0000ff"/>
<ellipse cx="390" cy="1009.89" rx="4.1" ry="3.7" fill="#0000ff"/>
<ellipse cx="421.78" cy="986.3" rx="4.1" ry="3.7" fill="#0000ff"/>
<ellipse cx="453.55" cy="950.13" rx="4.1" ry="3.7" fill="#0000ff"/>
<polyline points="167.58,1055.5 199.35,1055.5 231.12,1046.06 251.46,1039.77" fill="none" stroke="#0000ff" stroke-width="1.4" stroke-linejoin="round"/>
<ellipse cx="167.58" cy="1055.5" rx="4.1" ry="3.7" fill="#0000ff"/>
<ellipse cx="199.35" cy="1055.5" rx="4.1" ry="3.7" fill="#0000ff"/>
<ellipse cx="231.12" cy="1046.06" rx="4.1" ry="3.7" fill="#0000ff"/>
<ellipse cx="251.46" cy="1039.77" rx="4.1" ry="3.7" fill="#0000ff"/>
<polyline points="231.12,1055.5 262.9,1055.5 294.68,1053.93 326.45,1051.57 346.79,1040.95" fill="none" stroke="#0000ff" stroke-width="1.4" stroke-linejoin="round"/>
<ellipse cx="231.12" cy="1055.5" rx="4.1" ry="3.7" fill="#0000ff"/>
<ellipse cx="262.9" cy="1055.5" rx="4.1" ry="3.7" fill="#0000ff"/>
<ellipse cx="294.68" cy="1053.93" rx="4.1" ry="3.7" fill="#0000ff"/>
<ellipse cx="326.45" cy="1051.57" rx="4.1" ry="3.7" fill="#0000ff"/>
<ellipse cx="346.79" cy="1040.95" rx="4.1" ry="3.7" fill="#0000ff"/>
<polyline points="167.58,1055.5 199.35,1055.5 231.12,1055.5 262.9,1055.5 294.68,1055.5 326.45,1055.5 358.23,1055.5" fill="none" stroke="#0000ff" stroke-width="1.4" stroke-linejoin="round"/>
<ellipse cx="167.58" cy="1055.5" rx="4.1" ry="3.7" fill="#0000ff"/>
<ellipse cx="199.35" cy="1055.5" rx="4.1" ry="3.7" fill="#0000ff"/>
<ellipse cx="231.12" cy="1055.5" rx="4.1" ry="3.7" fill="#0000ff"/>
<ellipse cx="262.9" cy="1055.5" rx="4.1" ry="3.7" fill="#0000ff"/>
<ellipse cx="294.68" cy="1055.5" rx="4.1" ry="3.7" fill="#0000ff"/>
<ellipse cx="326.45" cy="1055.5" rx="4.1" ry="3.7" fill="#0000ff"/>
<ellipse cx="358.23" cy="1055.5" rx="4.1" ry="3.7" fill="#0000ff"/>
<polyline points="164.4,1055.5 198.08,1055.5 231.12,1055.5 266.08,1055.5 294.68,1055.5 323.27,1055.5 355.05,1055.5" fill="none" stroke="#0000ff" stroke-width="1.4" stroke-linejoin="round"/>
<ellipse cx="164.4" cy="1055.5" rx="4.1" ry="3.7" fill="#0000ff"/>
<ellipse cx="198.08" cy="1055.5" rx="4.1" ry="3.7" fill="#0000ff"/>
<ellipse cx="231.12" cy="1055.5" rx="4.1" ry="3.7" fill="#0000ff"/>
<ellipse cx="266.08" cy="1055.5" rx="4.1" ry="3.7" fill="#0000ff"/>
<ellipse cx="294.68" cy="1055.5" rx="4.1" ry="3.7" fill="#0000ff"/>
<ellipse cx="323.27" cy="1055.5" rx="4.1" ry="3.7" fill="#0000ff"/>
<ellipse cx="355.05" cy="1055.5" rx="4.1" ry="3.7" fill="#0000ff"/>
<polyline points="160.58,1055.11 192.36,1055.11 224.77,1055.11 257.82,1055.11 288.32,1055.11 320.1,1055.11 351.23,1055.11" fill="none" stroke="#0000ff" stroke-width="1.4" stroke-linejoin="round"/>
<ellipse cx="160.58" cy="1055.11" rx="4.1" ry="3.7" fill="#0000ff"/>
<ellipse cx="192.36" cy="1055.11" rx="4.1" ry="3.7" fill="#0000ff"/>
<ellipse cx="224.77" cy="1055.11" rx="4.1" ry="3.7" fill="#0000ff"/>
<ellipse cx="257.82" cy="1055.11" rx="4.1" ry="3.7" fill="#0000ff"/>
<ellipse cx="288.32" cy="1055.11" rx="4.1" ry="3.7" fill="#0000ff"/>
<ellipse cx="320.1" cy="1055.11" rx="4.1" ry="3.7" fill="#0000ff"/>
<ellipse cx="351.23" cy="1055.11" rx="4.1" ry="3.7" fill="#0000ff"/>
<polyline points="175.2,1055.11 206.98,1055.11 238.75,1055.11 271.16,1055.11 302.3,1055.11 334.08,1055.11 363.31,1055.11" fill="none" stroke="#0000ff" stroke-width="1.4" stroke-linejoin="round"/>
<ellipse cx="175.2" cy="1055.11" rx="4.1" ry="3.7" fill="#0000ff"/>
<ellipse cx="206.98" cy="1055.11" rx="4.1" ry="3.7" fill="#0000ff"/>
<ellipse cx="238.75" cy="1055.11" rx="4.1" ry="3.7" fill="#0000ff"/>
<ellipse cx="271.16" cy="1055.11" rx="4.1" ry="3.7" fill="#0000ff"/>
<ellipse cx="302.3" cy="1055.11" rx="4.1" ry="3.7" fill="#0000ff"/>
<ellipse cx="334.08" cy="1055.11" rx="4.1" ry="3.7" fill="#0000ff"/>
<ellipse cx="363.31" cy="1055.11" rx="4.1" ry="3.7" fill="#0000ff"/>
<polyline points="231.12,1055.5 262.9,1054.71 294.68,1052.35 326.45,1050.78 358.23,1049.21" fill="none" stroke="#0000ff" stroke-width="1.4" stroke-linejoin="round"/>
<ellipse cx="231.12" cy="1055.5" rx="4.1" ry="3.7" fill="#0000ff"/>
<ellipse cx="262.9" cy="1054.71" rx="4.1" ry="3.7" fill="#0000ff"/>
<ellipse cx="294.68" cy="1052.35" rx="4.1" ry="3.7" fill="#0000ff"/>
<ellipse cx="326.45" cy="1050.78" rx="4.1" ry="3.7" fill="#0000ff"/>
<ellipse cx="358.23" cy="1049.21" rx="4.1" ry="3.7" fill="#0000ff"/>
<text transform="translate(81.48,828) scale(1.0386,1)" font-size="23.7" fill="#000">300</text>
<text transform="translate(81.48,906.63) scale(1.0386,1)" font-size="23.7" fill="#000">200</text>
<text transform="translate(81.48,985.27) scale(1.0386,1)" font-size="23.7" fill="#000">100</text>
<text transform="translate(108.86,1063.9) scale(1.0386,1)" font-size="23.7" fill="#000">0</text>
<text transform="translate(128.89,1089.1) scale(1.0604,1)" font-size="23.7" fill="#000">0</text>
<text transform="translate(248.51,1089.1) scale(1.0853,1)" font-size="23.7" fill="#000">20</text>
<text transform="translate(376.57,1089.1) scale(1.0006,1)" font-size="23.7" fill="#000">40</text>
<text transform="translate(502.75,1089.1) scale(1.0523,1)" font-size="23.7" fill="#000">60</text>
<text transform="translate(165.51,1122.2) scale(1.0172,1)" font-size="23.7" fill="#000">Duration of exercise (minutes)</text>
<text transform="translate(67.3,1058.45) rotate(-90) scale(0.9361,1)" font-size="24" fill="#000">Number of electric shock</text>
<line x1="512.9" y1="952.1" x2="539.9" y2="952.1" stroke="#0000ff" stroke-width="1.4"/>
<ellipse cx="526.4" cy="952.1" rx="4.1" ry="3.7" fill="#0000ff"/>
<line x1="512.9" y1="987" x2="539.9" y2="987" stroke="#ff0000" stroke-width="1.4"/>
<rect x="522.6" y="983.5" width="7.6" height="7.0" fill="#ff0000"/>
<line x1="512.9" y1="1021.7" x2="539.9" y2="1021.7" stroke="#00bb00" stroke-width="1.4"/>
<path d="M526.4,1018.35 L530.15,1021.7 L526.4,1025.05 L522.65,1021.7 Z" fill="#00bb00"/>
<text transform="translate(554.82,960) scale(1.0435,1)" font-size="23" fill="#000">NC</text>
<text transform="translate(554.82,994.9) scale(1.0425,1)" font-size="23" fill="#000">HFD+Saline</text>
<text transform="translate(554.78,1030.1) scale(1.0650,1)" font-size="23" fill="#000">HFD+Tofo</text>
</svg></body></html>
